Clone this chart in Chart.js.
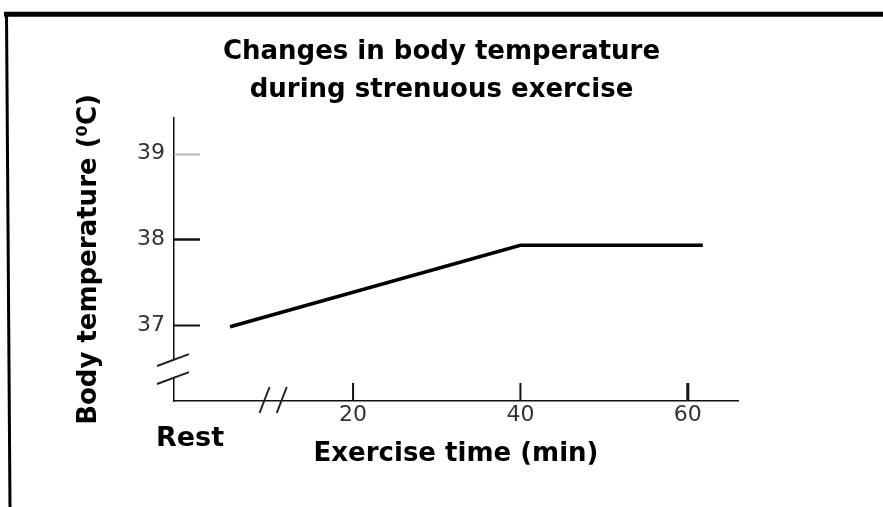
<!DOCTYPE html>
<html>
<head>
<meta charset="utf-8">
<title>Body temperature during exercise</title>
<script src="https://cdn.jsdelivr.net/npm/chart.js@4.4.1/dist/chart.umd.min.js"></script>
<style>
  html, body { margin: 0; padding: 0; background: #fff; }
  #wrap { width: 883px; height: 507px; position: relative; }
</style>
</head>
<body>
<div id="wrap"><canvas id="tempChart"></canvas></div>
<script>
// Data
const timeMin = [5.3, 40, 61.8];          // first point sits in the "Rest" part before the break
const bodyTemp = [36.98, 37.93, 37.93];
const xTickValues = [20, 40, 60];
const yTickValues = [37, 38, 39];
const titleLines = ['Changes in body temperature', 'during strenuous exercise'];

// where the axis breaks are drawn (in axis units)
const xBreakAt = 10.4;
const yBreakAt = 36.49;

const textFont = '"DejaVu Sans", "Liberation Sans", Arial, sans-serif';

// Frame, inner tick marks, axis breaks and the "Rest" label
const decorations = {
    id: 'decorations',
    afterDraw(chart) {
        const ctx = chart.ctx;
        const xs = chart.scales.x;
        const ys = chart.scales.y;
        const area = chart.chartArea;
        ctx.save();

        // frame round the picture
        ctx.strokeStyle = '#000';
        ctx.lineWidth = 5;
        ctx.beginPath();
        ctx.moveTo(4, 14.2);
        ctx.lineTo(chart.width, 14.2);
        ctx.stroke();
        ctx.lineWidth = 3;
        ctx.beginPath();
        ctx.moveTo(6.5, 14);
        ctx.lineTo(10, chart.height);
        ctx.stroke();

        // tick marks pointing into the plot
        yTickValues.forEach(v => {
            const py = Math.round(ys.getPixelForValue(v)) + 0.5;
            ctx.strokeStyle = v === 39 ? '#b5b5b5' : '#111';
            ctx.lineWidth = v === 38 ? 2.5 : 2;
            ctx.beginPath();
            ctx.moveTo(area.left, py);
            ctx.lineTo(area.left + 26, py);
            ctx.stroke();
        });
        xTickValues.forEach(v => {
            const px = xs.getPixelForValue(v);
            ctx.strokeStyle = '#111';
            ctx.lineWidth = v === 60 ? 3 : 2;
            ctx.beginPath();
            ctx.moveTo(px, area.bottom);
            ctx.lineTo(px, area.bottom - 18);
            ctx.stroke();
        });

        // y axis break: gap in the axis plus two slashes
        const yb = ys.getPixelForValue(yBreakAt);
        ctx.fillStyle = '#fff';
        ctx.fillRect(area.left - 3, yb - 9, 6, 18);
        ctx.strokeStyle = '#222';
        ctx.lineWidth = 2;
        [yb - 9, yb + 9].forEach(cy => {
            ctx.beginPath();
            ctx.moveTo(area.left - 17, cy + 6.3);
            ctx.lineTo(area.left + 15, cy - 5.6);
            ctx.stroke();
        });

        // x axis break: two slashes over the axis
        const xb = xs.getPixelForValue(xBreakAt);
        [xb - 8.6, xb + 8.6].forEach(cx => {
            ctx.beginPath();
            ctx.moveTo(cx - 4.6, area.bottom + 12);
            ctx.lineTo(cx + 5.4, area.bottom - 14);
            ctx.stroke();
        });

        // "Rest" under the part before the break
        ctx.fillStyle = '#000';
        ctx.font = 'bold 27px ' + textFont;
        ctx.textAlign = 'center';
        ctx.textBaseline = 'middle';
        ctx.fillText('Rest', area.left + 16, area.bottom + 38);

        ctx.restore();
    }
};

const canvas = document.getElementById('tempChart');
if (canvas) {
    const ctx = canvas.getContext('2d');
    const tempChart = new Chart(ctx, {
        type: 'line',
        data: {
            datasets: [{
                label: 'Body temperature',
                data: timeMin.map((t, i) => ({ x: t, y: bodyTemp[i] })),
                borderColor: '#000',
                borderWidth: 3.5,
                pointRadius: 0,
                tension: 0,
                fill: false,
                xAxisID: 'x',
                yAxisID: 'y'
            }]
        },
        options: {
            responsive: true,
            maintainAspectRatio: false,
            animation: false,
            layout: { padding: 0 },
            plugins: {
                legend: { display: false },
                tooltip: { enabled: false },
                title: {
                    display: true,
                    text: titleLines,
                    color: '#000',
                    font: { family: textFont, size: 26, weight: 'bold', lineHeight: 38 / 26 },
                    padding: { top: 33.5, bottom: 8.5 }
                }
            },
            scales: {
                x: {
                    type: 'linear',
                    position: 'bottom',
                    min: -1.4,
                    max: 66,
                    afterBuildTicks: s => { s.ticks = xTickValues.map(v => ({ value: v })); },
                    afterFit: s => { s.height = 106; },
                    grid: { display: false, drawTicks: false },
                    border: { display: true, color: '#111', width: 1.5 },
                    ticks: {
                        color: '#333',
                        padding: 1,
                        font: { family: textFont, size: 22 },
                        maxRotation: 0,
                        autoSkip: false
                    },
                    title: {
                        display: true,
                        text: 'Exercise time (min)',
                        color: '#000',
                        font: { family: textFont, size: 26, weight: 'bold', lineHeight: 1.2 },
                        padding: { top: 0, bottom: 37 }
                    }
                },
                y: {
                    type: 'linear',
                    position: 'left',
                    min: 36.114,
                    max: 39.414,
                    afterBuildTicks: s => { s.ticks = yTickValues.map(v => ({ value: v })); },
                    afterFit: s => { s.width = 174; },
                    grid: { display: false, drawTicks: false },
                    border: { display: true, color: '#111', width: 1.5 },
                    ticks: {
                        color: '#333',
                        padding: 9,
                        font: { family: textFont, size: 22 }
                    },
                    title: {
                        display: true,
                        text: 'Body temperature (\u2070C)',
                        color: '#000',
                        font: { family: textFont, size: 26, weight: 'bold', lineHeight: 1.2 },
                        padding: { top: 73.7, bottom: 0 }
                    }
                },
                // empty axis on the right, only to keep the plot clear of the right side
                yPad: {
                    type: 'linear',
                    position: 'right',
                    display: true,
                    afterFit: s => { s.width = 145; },
                    grid: { display: false, drawTicks: false },
                    border: { display: false },
                    ticks: { display: false }
                }
            }
        },
        plugins: [decorations]
    });
} else {
    console.warn('Canvas for tempChart not found.');
}
</script>
</body>
</html>
